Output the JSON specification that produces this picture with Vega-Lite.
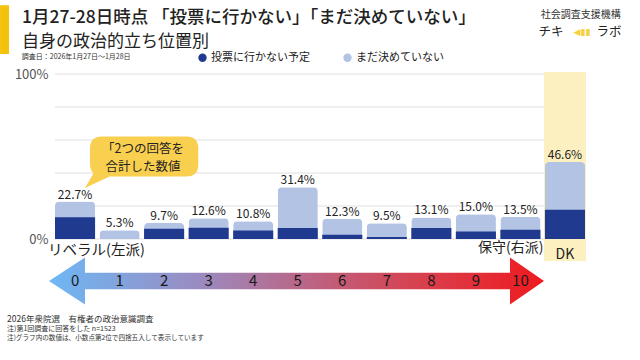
{
  "$schema": "https://vega.github.io/schema/vega-lite/v6.json",
  "autosize": {"type": "none"},
  "padding": {"left": 55, "top": 74, "right": 55, "bottom": 121},
  "width": 530,
  "height": 165,
  "background": "white",
  "config": {
    "font": "Noto Sans CJK JP",
    "view": {"stroke": null},
    "text": {"font": "Noto Sans CJK JP", "color": "#222222"},
    "axisY": {"grid": false, "domain": false, "ticks": false, "labelPadding": 7,
              "labelFontSize": 13, "labelColor": "#555555", "labelFont": "Noto Sans CJK JP",
              "labelOverlap": false, "tickCount": 5, "labelBound": false, "labelFlush": false,
              "labelExpr": "datum.value == 0 || datum.value == 100 ? datum.value + '%' : ''"}
  },
  "datasets": {
    "main": [
      {"cat": "0", "total": 22.7, "dark": 13.2, "label": "22.7%"},
      {"cat": "1", "total": 5.3, "dark": 0, "label": "5.3%"},
      {"cat": "2", "total": 9.7, "dark": 6.2, "label": "9.7%"},
      {"cat": "3", "total": 12.6, "dark": 6.8, "label": "12.6%"},
      {"cat": "4", "total": 10.8, "dark": 5.2, "label": "10.8%"},
      {"cat": "5", "total": 31.4, "dark": 6.6, "label": "31.4%"},
      {"cat": "6", "total": 12.3, "dark": 2.6, "label": "12.3%"},
      {"cat": "7", "total": 9.5, "dark": 1.2, "label": "9.5%"},
      {"cat": "8", "total": 13.1, "dark": 6.6, "label": "13.1%"},
      {"cat": "9", "total": 15.0, "dark": 4.6, "label": "15.0%"},
      {"cat": "10", "total": 13.5, "dark": 5.6, "label": "13.5%"},
      {"cat": "DK", "total": 46.6, "dark": 17.7, "label": "46.6%"}
    ],
    "grid": [{"g": 0}, {"g": 20}, {"g": 40}, {"g": 60}, {"g": 80}, {"g": 100}]
  },
  "layer": [
    {
      "data": {"name": "grid"},
      "mark": {"type": "rule", "color": "#e0e0e0", "strokeWidth": 1},
      "encoding": {
        "y": {"field": "g", "type": "quantitative", "title": null, "scale": {"domain": [0, 100], "nice": false}}
      }
    },
    {
      "data": {"values": [{"cat": "DK"}]},
      "mark": {"type": "bar", "color": "#fdf0c0", "width": {"band": 1.05}},
      "encoding": {
        "x": {"field": "cat", "type": "nominal", "axis": null,
              "scale": {"domain": ["0","1","2","3","4","5","6","7","8","9","10","DK"], "paddingInner": 0.1, "paddingOuter": 0}},
        "y": {"datum": 101.2, "type": "quantitative"},
        "y2": {"datum": -13.4}
      }
    },
    {
      "data": {"name": "main"},
      "mark": {"type": "bar", "cornerRadiusTopLeft": 4, "cornerRadiusTopRight": 4},
      "encoding": {
        "x": {"field": "cat", "type": "nominal", "axis": null},
        "y": {"field": "total", "type": "quantitative", "title": null},
        "color": {"datum": "まだ決めていない", "type": "nominal",
                  "scale": {"domain": ["投票に行かない予定", "まだ決めていない"], "range": ["#1f3a8f", "#b3c3e4"]},
                  "legend": {"orient": "none", "legendX": 142, "legendY": -22, "direction": "horizontal",
                             "title": null, "symbolType": "circle", "symbolSize": 70, "labelFontSize": 11,
                             "labelFont": "Noto Sans CJK JP", "labelColor": "#222222", "columnPadding": 32,
                             "labelOffset": 3, "padding": 0}}
      }
    },
    {
      "data": {"name": "main"},
      "mark": {"type": "bar"},
      "encoding": {
        "x": {"field": "cat", "type": "nominal", "axis": null},
        "y": {"field": "dark", "type": "quantitative", "title": null},
        "color": {"datum": "投票に行かない予定", "type": "nominal"}
      }
    },
    {
      "data": {"name": "main"},
      "mark": {"type": "text", "baseline": "alphabetic", "dy": -3, "fontSize": 12, "color": "#222222"},
      "encoding": {
        "x": {"field": "cat", "type": "nominal", "axis": null},
        "y": {"field": "total", "type": "quantitative", "title": null},
        "text": {"field": "label"}
      }
    },
    {
      "data": {"values": [{"k": "bubble"}]},
      "mark": {"type": "point", "filled": true, "opacity": 1, "fill": "#f9cf4f", "strokeWidth": 0, "size": 40000,
               "shape": "M-0.176,-0.2L0.667,-0.2Q0.787,-0.2 0.787,-0.08L0.787,0.08Q0.787,0.2 0.667,0.2L-0.10,0.2L-0.346,0.315L-0.262,0.17Q-0.296,0.13 -0.296,0.08L-0.296,-0.08Q-0.296,-0.2 -0.176,-0.2Z"},
      "encoding": {
        "x": {"datum": "1", "type": "nominal", "axis": null},
        "y": {"datum": 50, "type": "quantitative"}
      }
    },
    {
      "data": {"values": [{"t": "「2つの回答を"}]},
      "mark": {"type": "text", "fontSize": 12.5, "baseline": "middle", "align": "center", "dx": 23.5},
      "encoding": {
        "x": {"datum": "1", "type": "nominal", "axis": null},
        "y": {"datum": 54.3, "type": "quantitative"},
        "text": {"field": "t"}
      }
    },
    {
      "data": {"values": [{"t": "合計した数値"}]},
      "mark": {"type": "text", "fontSize": 12.5, "baseline": "middle", "align": "center", "dx": 23.5},
      "encoding": {
        "x": {"datum": "1", "type": "nominal", "axis": null},
        "y": {"datum": 43.8, "type": "quantitative"},
        "text": {"field": "t"}
      }
    },
    {
      "data": {"values": [{"k": "arrow"}]},
      "mark": {"type": "point", "filled": true, "opacity": 1, "strokeWidth": 0, "size": 250000,
               "fill": {"gradient": "linear", "x1": 0, "y1": 0, "x2": 1, "y2": 0,
                        "stops": [{"offset": 0, "color": "#6db8f5"}, {"offset": 0.3, "color": "#9a8cc2"},
                                  {"offset": 0.5, "color": "#b8688a"}, {"offset": 0.75, "color": "#d8404e"},
                                  {"offset": 1, "color": "#ee1a1f"}]},
               "shape": "M-0.995,0L-0.851,-0.094L-0.851,-0.033L0.849,-0.033L0.849,-0.094L0.985,0L0.849,0.094L0.849,0.033L-0.851,0.033L-0.851,0.094Z"},
      "encoding": {
        "x": {"datum": "5", "type": "nominal", "axis": null},
        "y": {"datum": -25.5, "type": "quantitative"}
      }
    },
    {
      "data": {"name": "main"},
      "transform": [{"filter": "datum.cat != 'DK'"}],
      "mark": {"type": "text", "fontSize": 15, "baseline": "middle", "color": "#1a1a1a"},
      "encoding": {
        "x": {"field": "cat", "type": "nominal", "axis": null},
        "y": {"datum": -25.5, "type": "quantitative"},
        "text": {"field": "cat"}
      }
    },
    {
      "data": {"values": [{"t": "リベラル(左派)"}]},
      "mark": {"type": "text", "fontSize": 14.5, "align": "left", "baseline": "middle", "dx": -27},
      "encoding": {
        "x": {"datum": "0", "type": "nominal", "axis": null},
        "y": {"datum": -7.4, "type": "quantitative"},
        "text": {"field": "t"}
      }
    },
    {
      "data": {"values": [{"t": "保守(右派)"}]},
      "mark": {"type": "text", "fontSize": 14, "align": "right", "baseline": "middle", "dx": 23},
      "encoding": {
        "x": {"datum": "10", "type": "nominal", "axis": null},
        "y": {"datum": -5.3, "type": "quantitative"},
        "text": {"field": "t"}
      }
    },
    {
      "data": {"values": [{"t": "DK"}]},
      "mark": {"type": "text", "fontSize": 14, "align": "center", "baseline": "middle"},
      "encoding": {
        "x": {"datum": "DK", "type": "nominal", "axis": null},
        "y": {"datum": -9.4, "type": "quantitative"},
        "text": {"field": "t"}
      }
    },
    {
      "data": {"values": [{"k": "bar"}]},
      "mark": {"type": "rule", "strokeWidth": 9, "color": "#f4c20d", "xOffset": -70.5},
      "encoding": {
        "x": {"datum": "0", "type": "nominal", "axis": null},
        "y": {"datum": 141.7, "type": "quantitative"},
        "y2": {"datum": 112.1}
      }
    },
    {
      "data": {"values": [{"t": "1月27-28日時点 「投票に行かない」「まだ決めていない」"}]},
      "mark": {"type": "text", "fontSize": 17.5, "fontWeight": 500, "align": "left", "baseline": "middle", "dx": -53},
      "encoding": {
        "x": {"datum": "0", "type": "nominal", "axis": null},
        "y": {"datum": 134.1, "type": "quantitative"},
        "text": {"field": "t"}
      }
    },
    {
      "data": {"values": [{"t": "自身の政治的立ち位置別"}]},
      "mark": {"type": "text", "fontSize": 17, "align": "left", "baseline": "middle", "dx": -53},
      "encoding": {
        "x": {"datum": "0", "type": "nominal", "axis": null},
        "y": {"datum": 119.5, "type": "quantitative"},
        "text": {"field": "t"}
      }
    },
    {
      "data": {"values": [{"t": "調査日：2026年1月27日～1月28日"}]},
      "mark": {"type": "text", "fontSize": 7, "align": "left", "baseline": "middle", "dx": -53.3, "color": "#333333"},
      "encoding": {
        "x": {"datum": "0", "type": "nominal", "axis": null},
        "y": {"datum": 110.1, "type": "quantitative"},
        "text": {"field": "t"}
      }
    },
    {
      "data": {"values": [{"t": "社会調査支援機構"}]},
      "mark": {"type": "text", "fontSize": 10, "align": "center", "baseline": "middle", "dx": 15.9, "color": "#333333"},
      "encoding": {
        "x": {"datum": "DK", "type": "nominal", "axis": null},
        "y": {"datum": 135.6, "type": "quantitative"},
        "text": {"field": "t"}
      }
    },
    {
      "data": {"values": [{"t": "チキ"}]},
      "mark": {"type": "text", "fontSize": 12.5, "align": "center", "baseline": "middle", "dx": -14},
      "encoding": {
        "x": {"datum": "DK", "type": "nominal", "axis": null},
        "y": {"datum": 125.6, "type": "quantitative"},
        "text": {"field": "t"}
      }
    },
    {
      "data": {"values": [{"t": "◀▮▮"}]},
      "mark": {"type": "text", "fontSize": 9, "align": "center", "baseline": "middle", "dx": 17, "color": "#f5d13b", "font": "DejaVu Sans"},
      "encoding": {
        "x": {"datum": "DK", "type": "nominal", "axis": null},
        "y": {"datum": 125.6, "type": "quantitative"},
        "text": {"field": "t"}
      }
    },
    {
      "data": {"values": [{"t": "ラボ"}]},
      "mark": {"type": "text", "fontSize": 12.5, "align": "center", "baseline": "middle", "dx": 44},
      "encoding": {
        "x": {"datum": "DK", "type": "nominal", "axis": null},
        "y": {"datum": 125.6, "type": "quantitative"},
        "text": {"field": "t"}
      }
    },
    {
      "data": {"values": [{"t": "2026年衆院選　有権者の政治意識調査"}]},
      "mark": {"type": "text", "fontSize": 8.5, "align": "left", "baseline": "middle", "dx": -68, "color": "#333333"},
      "encoding": {
        "x": {"datum": "0", "type": "nominal", "axis": null},
        "y": {"datum": -48.6, "type": "quantitative"},
        "text": {"field": "t"}
      }
    },
    {
      "data": {"values": [{"t": "注)第1回調査に回答をした n=1523"}]},
      "mark": {"type": "text", "fontSize": 7, "align": "left", "baseline": "middle", "dx": -68, "color": "#333333"},
      "encoding": {
        "x": {"datum": "0", "type": "nominal", "axis": null},
        "y": {"datum": -54.7, "type": "quantitative"},
        "text": {"field": "t"}
      }
    },
    {
      "data": {"values": [{"t": "注)グラフ内の数値は、小数点第2位で四捨五入して表示しています"}]},
      "mark": {"type": "text", "fontSize": 6.6, "align": "left", "baseline": "middle", "dx": -68, "color": "#333333"},
      "encoding": {
        "x": {"datum": "0", "type": "nominal", "axis": null},
        "y": {"datum": -60.1, "type": "quantitative"},
        "text": {"field": "t"}
      }
    }
  ]
}
